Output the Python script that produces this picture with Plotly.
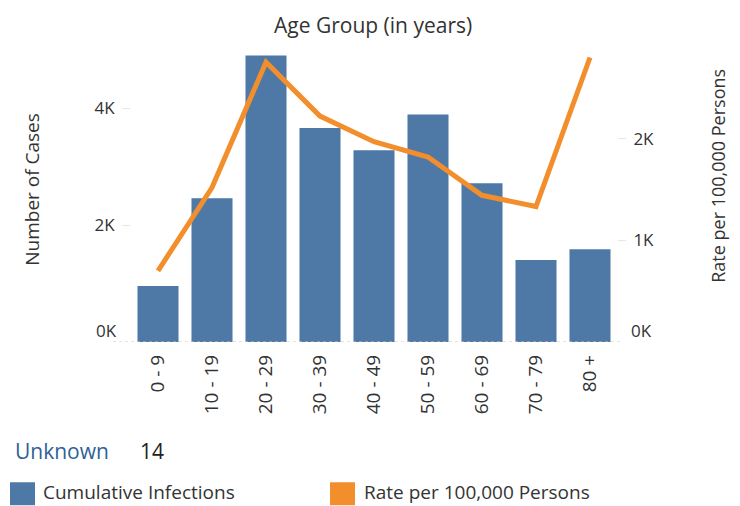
import plotly.graph_objects as go

age_groups = ["0 - 9", "10 - 19", "20 - 29", "30 - 39", "40 - 49",
              "50 - 59", "60 - 69", "70 - 79", "80 +"]
cumulative_infections = [957, 2462, 4906, 3663, 3282, 3897, 2718, 1402, 1590]
rate_per_100k = [701, 1521, 2756, 2225, 1973, 1822, 1445, 1334, 2802]
left_ticks = [2000, 4000]
left_tick_labels = ["2K", "4K"]
right_ticks = [1000, 2000]
right_tick_labels = ["1K", "2K"]
unknown_count = 14

BLUE = "#4e79a7"
ORANGE = "#f28e2b"
FONT = "Open Sans"
TXT = "#333333"
TICK = 17

fig = go.Figure()
fig.add_trace(go.Bar(x=age_groups, y=cumulative_infections, marker_color=BLUE,
                     marker_line_width=0, name="Cumulative Infections"))
fig.add_trace(go.Scatter(x=age_groups, y=rate_per_100k, yaxis="y2", mode="lines",
                         line=dict(color=ORANGE, width=5), name="Rate per 100,000 Persons"))

W, H = 740, 506
ml, mr, mt, mb = 131, 123, 48, 163.5
ph = H - mt - mb
pw = W - ml - mr
left_max = ph / 58.5 * 1000
right_max = ph / 101.7 * 1000


def px_x(v):
    return (v - ml) / pw


def px_y(v):
    return (342.5 - v) / ph


fig.update_layout(
    width=W, height=H,
    margin=dict(l=ml, r=mr, t=mt, b=mb, pad=0),
    plot_bgcolor="white", paper_bgcolor="white",
    showlegend=False, bargap=0.24,
    font=dict(family=FONT, color=TXT, size=TICK),
    xaxis=dict(type="category", tickangle=-90, showgrid=False, showline=False,
               ticks="", ticklabelstandoff=8, tickfont=dict(size=19, color=TXT)),
    yaxis=dict(range=[0, left_max], tickvals=left_ticks, ticktext=left_tick_labels,
               showgrid=False, zeroline=False, showline=False, ticks="outside",
               ticklen=8, tickcolor="#e6e6e6", tickwidth=1, ticklabelstandoff=4,
               tickfont=dict(size=TICK, color=TXT)),
    yaxis2=dict(range=[0, right_max], overlaying="y", side="right",
                tickvals=right_ticks, ticktext=right_tick_labels,
                showgrid=False, zeroline=False, showline=False, ticks="outside",
                ticklen=8, tickcolor="#e6e6e6", tickwidth=1, ticklabelstandoff=4,
                tickfont=dict(size=TICK, color=TXT)),
)

# dotted baseline
fig.add_shape(type="line", xref="paper", yref="y", x0=px_x(113), x1=px_x(620), y0=0, y1=0,
              line=dict(color="#c8c8c8", width=1, dash="dot"))

ann = []
ann.append(dict(text="0K", xref="paper", yref="y", x=0, y=0, xanchor="right",
                xshift=-12, yshift=12, showarrow=False, font=dict(size=TICK, color=TXT)))
ann.append(dict(text="0K", xref="paper", yref="y2", x=1, y=0, xanchor="left",
                xshift=12, yshift=12, showarrow=False, font=dict(size=TICK, color=TXT)))
ann.append(dict(text="Age Group (in years)", xref="paper", yref="paper",
                x=px_x(373), y=px_y(25), showarrow=False,
                font=dict(size=21, color=TXT), xanchor="center", yanchor="middle"))
ann.append(dict(text="Number of Cases", xref="paper", yref="paper",
                x=px_x(32), y=px_y(190), textangle=-90,
                showarrow=False, font=dict(size=19, color=TXT),
                xanchor="center", yanchor="middle"))
ann.append(dict(text="Rate per 100,000 Persons", xref="paper", yref="paper",
                x=px_x(718), y=px_y(176), textangle=-90,
                showarrow=False, font=dict(size=18, color=TXT),
                xanchor="center", yanchor="middle"))
ann.append(dict(text="Unknown", xref="paper", yref="paper", x=px_x(13),
                y=px_y(452), showarrow=False, xanchor="left", yanchor="middle",
                font=dict(size=21, color="#2f5f98")))
ann.append(dict(text=str(unknown_count), xref="paper", yref="paper",
                x=px_x(138), y=px_y(452), showarrow=False,
                xanchor="left", yanchor="middle", font=dict(size=21, color="#222222")))
fig.add_shape(type="rect", xref="paper", yref="paper", x0=px_x(10), x1=px_x(35),
              y0=px_y(506), y1=px_y(483), fillcolor=BLUE, line_width=0)
fig.add_shape(type="rect", xref="paper", yref="paper", x0=px_x(330), x1=px_x(355),
              y0=px_y(506), y1=px_y(483), fillcolor=ORANGE, line_width=0)
ann.append(dict(text="Cumulative Infections", xref="paper", yref="paper", x=px_x(41),
                y=px_y(493), showarrow=False, xanchor="left", yanchor="middle",
                font=dict(size=19, color=TXT)))
ann.append(dict(text="Rate per 100,000 Persons", xref="paper", yref="paper", x=px_x(362),
                y=px_y(493), showarrow=False, xanchor="left", yanchor="middle",
                font=dict(size=19, color=TXT)))
fig.update_layout(annotations=ann)

fig.write_html("out.html", config={"displayModeBar": False},
               post_script="document.body.style.margin='0px';document.body.style.overflow='hidden';")
